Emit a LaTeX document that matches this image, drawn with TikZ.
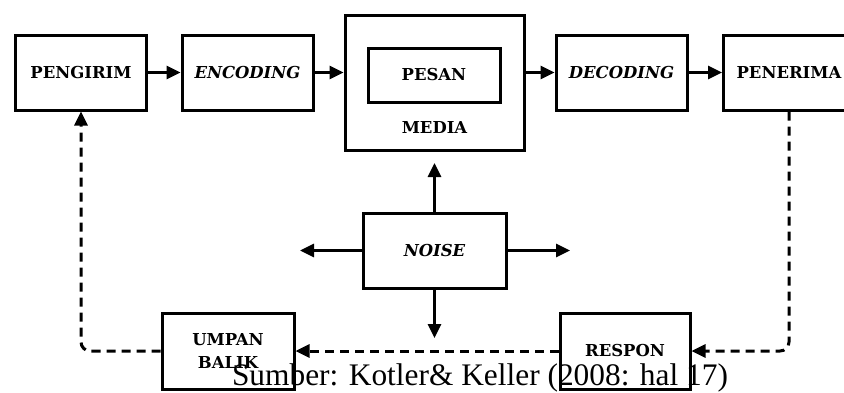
\documentclass[tikz,border=0pt]{standalone}
\usepackage{fontspec}
\setmainfont{Liberation Serif}
\newfontfamily\boxfont{DejaVu Serif}
\usetikzlibrary{arrows.meta}
\tikzset{
  labelfont/.style={font=\boxfont\bfseries\fontsize{16.5}{24}\selectfont},
  block/.style={draw, line width=3bp, minimum width=131bp, minimum height=75bp,
    inner sep=0pt, align=center, labelfont},
  flow/.style={line width=3bp, -{Triangle[length=14bp,width=13bp]}},
  back/.style={flow, dash pattern=on 9bp off 6bp, rounded corners=9bp},
}
\begin{document}
\begin{tikzpicture}[x=1bp,y=-1bp]
\useasboundingbox (0,0) rectangle (844,392);
\begin{scope}
\clip (0,0) rectangle (844,392);
% top row
\node[block] (pengirim) at (81,72.5) {PENGIRIM};
\node[block] (encoding) at (247.5,72.5) {\itshape ENCODING};
\node[block, minimum width=179bp, minimum height=135bp] (media) at (434.5,82.5) {};
\node[block, minimum width=132bp, minimum height=54bp] (pesan) at (434,75) {PESAN};
\node[labelfont] (medialabel) at (434.5,128) {MEDIA};
\node[block] (decoding) at (621.5,72.5) {\itshape DECODING};
\node[block] (penerima) at (789,72.5) {PENERIMA};
% noise in the middle
\node[block, minimum width=143bp] (noise) at (434.5,250.5) {\itshape NOISE};
\coordinate (nup) at (434.5,163);
\coordinate (nleft) at (300,250.5);
\coordinate (nright) at (570,250.5);
\coordinate (ndown) at (434.5,338);
% bottom row
\node[block, minimum width=130bp, minimum height=76bp] (respon) at (625,351) {RESPON};
\node[block, minimum width=132bp, minimum height=76bp] (umpan) at (228,351) {UMPAN\\BALIK};
% main flow
\draw[flow] (pengirim) -- (encoding);
\draw[flow] (encoding.east) -- (encoding.east -| media.west);
\draw[flow] (decoding.west -| media.east) -- (decoding.west);
\draw[flow] (decoding) -- (penerima);
% noise arrows
\draw[flow] (noise.north) -- (nup);
\draw[flow] (noise.west) -- (nleft);
\draw[flow] (noise.east) -- (nright);
\draw[flow] (noise.south) -- (ndown);
% feedback loop
\draw[back] (penerima.south) |- (respon.east);
\draw[back] (respon.west) -- (umpan.east);
\draw[back] (umpan.west) -| (pengirim.south);
\end{scope}
\node[font=\fontsize{31.5}{31.5}\selectfont, anchor=base, inner sep=0pt] (caption) at (480,385) {Sumber: Kotler\& Keller (2008: hal 17)};
\end{tikzpicture}
\end{document}
